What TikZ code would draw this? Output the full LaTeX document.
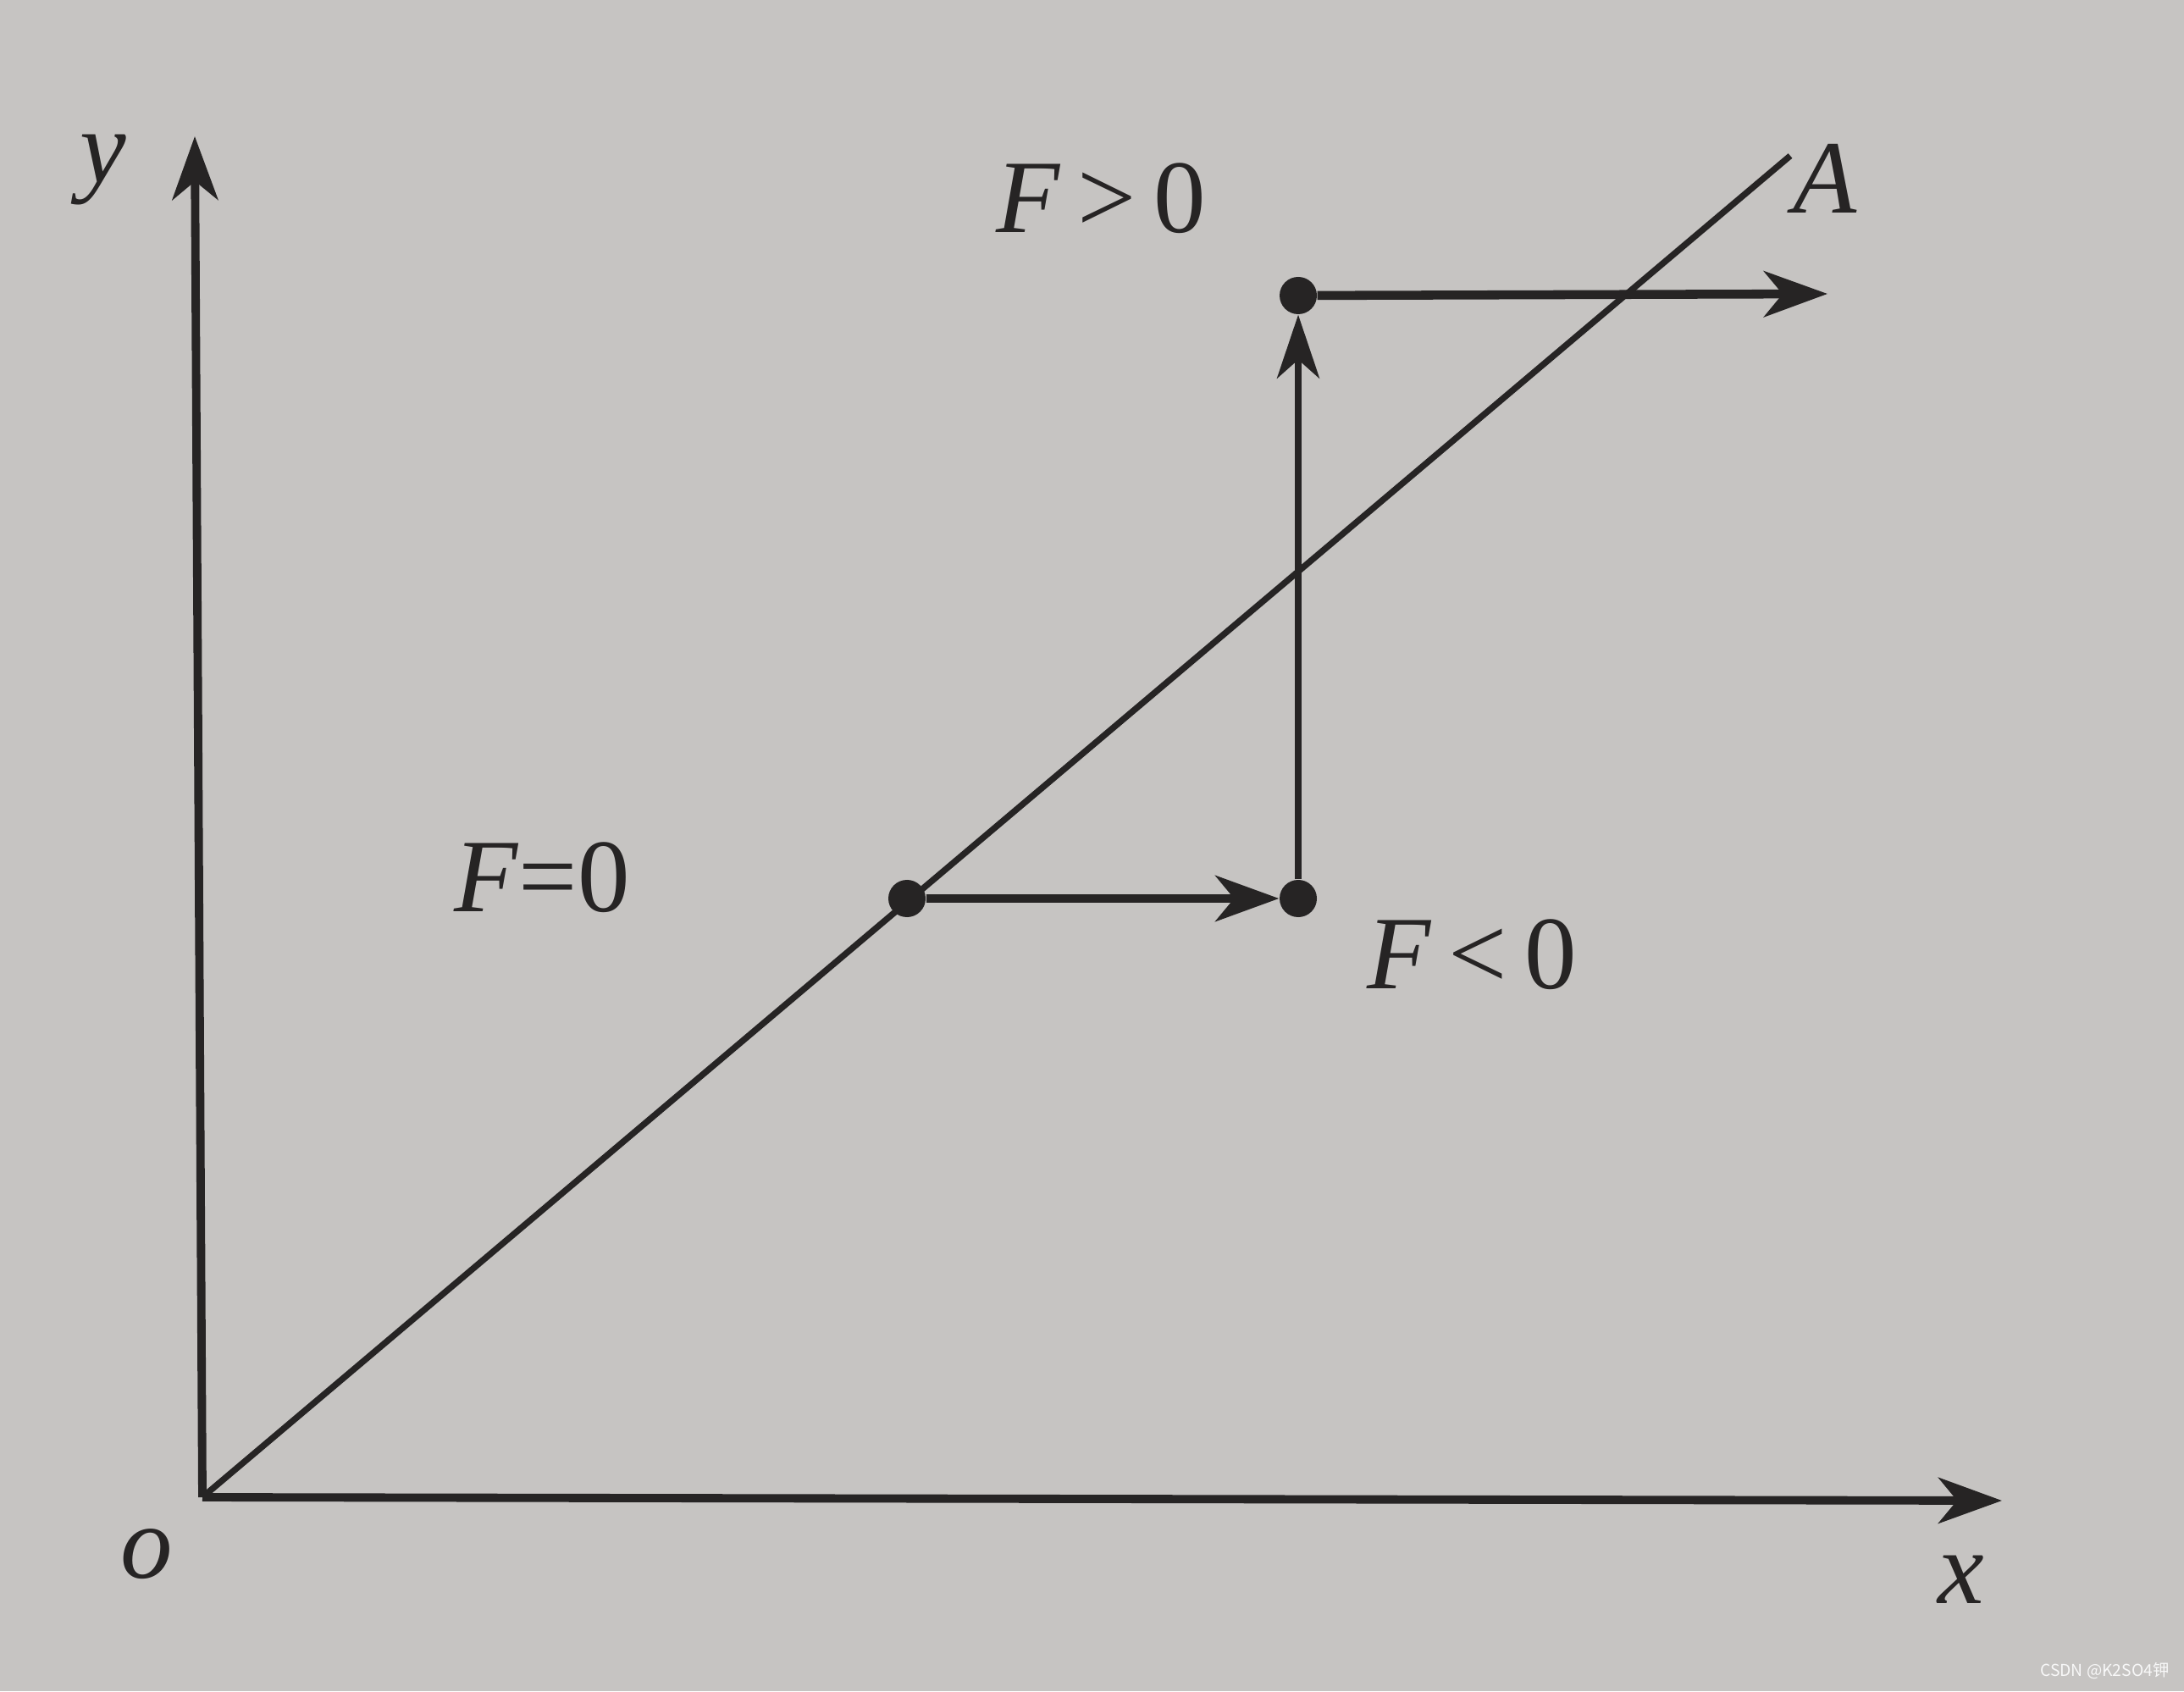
\documentclass[tikz,border=0pt]{standalone}
\usepackage{fontspec}
\setmainfont{Liberation Serif}
\newfontfamily\cjk{Noto Sans CJK SC}
\usepackage{xcolor}
\usetikzlibrary{arrows.meta,positioning,calc}

\definecolor{paper}{RGB}{198,196,194}
\definecolor{ink}{RGB}{38,36,36}

\begin{document}
\begin{tikzpicture}[
    axis/.style={draw=ink, line width=2.8pt, -{Stealth[length=7.5mm,width=5.4mm,inset=2.2mm]}},
    flow/.style={draw=ink, line width=3pt, -{Stealth[length=7.5mm,width=5.4mm,inset=2.2mm]}},
    rise/.style={draw=ink, line width=2.3pt, -{Stealth[length=7.5mm,width=5mm,inset=2.2mm]}},
    dot/.style={circle, fill=ink, inner sep=0pt, minimum size=4.4mm},
    lbl/.style={text=ink, font=\fontsize{35}{40}\selectfont}
]
% paper
\fill[paper] (0,0) rectangle (25.79,19.97);
\useasboundingbox (0,0) rectangle (25.79,19.97);

% Axes
\coordinate (o) at (2.39,2.29);
\coordinate (ytip) at (2.30,18.36);
\coordinate (xtip) at (23.64,2.25);
\draw[axis] (o) -- (ytip);
\draw[axis] (o) -- (xtip);

% Line OA
\coordinate (aend) at (21.14,18.13);
\draw[ink, line width=2.1pt] (o) -- (aend);

% States
\node[dot] (p1) at (10.71,9.36) {};
\node[dot] (p2) at (15.33,9.36) {};
\node[dot] (p3) at (15.33,16.48) {};
\coordinate (tip) at (21.58,16.50);
\draw[flow] (p1) -- (p2);
\draw[rise] (p2) -- (p3);
\draw[flow] (p3) -- (tip);

% Labels
\node[lbl] (ylbl) at (1.22,17.96) {\textit{y}};
\node[lbl] (albl) at (21.55,17.86) {\textit{A}};
\node[lbl] (olbl) at (1.73,1.62) {\textit{o}};
\node[lbl] (xlbl) at (23.16,1.32) {\textit{x}};
\node[lbl] (fpos) at (13.00,17.63) {\textit{F}\,>\,0};
\node[lbl] (fzero) at (6.40,9.61) {\textit{F}=0};
\node[lbl] (fneg) at (17.38,8.70) {\textit{F}\,<\,0};

\node[anchor=east, text=white!88!paper, font=\cjk\fontsize{5.5}{7}\selectfont] (mark) at (25.74,0.24) {CSDN @K2SO4钾};
\end{tikzpicture}
\end{document}
